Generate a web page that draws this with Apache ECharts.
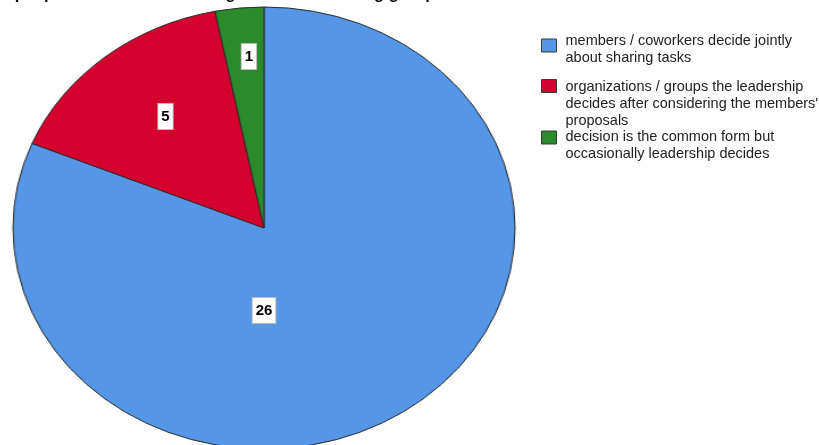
<!DOCTYPE html>
<html>
<head>
<meta charset="utf-8">
<script src="https://cdn.jsdelivr.net/npm/echarts@6/dist/echarts.min.js"></script>
<style>
  html, body { margin: 0; padding: 0; background: #fff; overflow: hidden; }
  #wrap { position: relative; width: 819px; height: 445px; overflow: hidden; }
  #pie, #overlay { position: absolute; left: 0; top: 0; width: 819px; height: 445px; }
  /* the pie is drawn as a circle and stretched sideways into an ellipse */
  #pie { transform: scaleX(1.136); transform-origin: 264px 228px; }
</style>
</head>
<body>
<div id="wrap">
  <div id="pie"></div>
  <div id="overlay"></div>
</div>
<script>
// answer categories and their counts
const categories = [
  'members / coworkers decide jointly\nabout sharing tasks',
  'organizations / groups the leadership\ndecides after considering the members\'\nproposals',
  'decision is the common form but\noccasionally leadership decides'
];
const counts = [26, 5, 1];
const colors = ['#5596e6', '#d4002d', '#2a8a2c'];
const titleText = 'n people connected to the organization / working group:';

// geometry of the ellipse
const CX = 264, CY = 228, R = 221, SX = 1.136;
const FONT = 'Liberation Sans, Arial, sans-serif';

// where each value label sits: radial fraction and a small angular nudge (degrees)
const labelRadius = [0.373, 0.639, 0.778];
const labelShift = [33.75, 1.5, 1.2];

const pieData = categories.map((c, i) => ({ name: c, value: counts[i] }));

// 1) stretched pie with sectors only
const pie = echarts.init(document.getElementById('pie'), null, { renderer: 'canvas' });
pie.setOption({
  animation: false,
  series: [{
    type: 'pie',
    silent: true,
    center: [CX, CY],
    radius: R,
    startAngle: 90,
    clockwise: true,
    label: { show: false },
    labelLine: { show: false },
    data: pieData.map((d, i) => ({ ...d, itemStyle: { color: colors[i] } })),
    itemStyle: { borderColor: '#2b2b2b', borderWidth: 1 }
  }]
});

// mid angle of each slice, clockwise from 12 o'clock
const total = counts.reduce((a, b) => a + b, 0);
const midAngles = [];
let acc = 0;
counts.forEach(v => { midAngles.push((acc + v / 2) / total * 360); acc += v; });

// 2) overlay: title, legend and value labels (not stretched)
// a spacer line above the text sets where the first line sits next to the swatch
const LH = 17;
const swatchCenter = [45.5, 86, 137.5];
const firstLineOffset = [-4.5, 1, -0.5];
const legends = categories.map((c, i) => {
  const lines = c.split('\n');
  const n = lines.length;
  const gap = 2 * firstLineOffset[i] + (n - 1) * LH;
  return {
    orient: 'vertical',
    left: 541,
    top: swatchCenter[i] - (gap + n * LH) / 2,
    padding: 0,
    itemWidth: 15,
    itemHeight: 13,
    selectedMode: false,
    icon: 'rect',
    data: [{
      name: c,
      itemStyle: { color: colors[i], borderColor: '#3a3a3a', borderWidth: 1, opacity: 1 }
    }],
    formatter: () => '{g| }\n' + lines.map(l => '{t|' + l + '}').join('\n'),
    textStyle: {
      padding: [0, 0, 0, 4],
      rich: {
        g: { fontSize: 1, lineHeight: gap, height: gap },
        t: { fontFamily: FONT, fontSize: 14.5, lineHeight: LH, color: '#222' }
      }
    }
  };
});

const overlay = echarts.init(document.getElementById('overlay'), null, { renderer: 'canvas' });
overlay.setOption({
  animation: false,
  title: {
    text: titleText,
    left: 0,
    top: -14,
    padding: 0,
    textStyle: { fontFamily: FONT, fontSize: 16.5, fontWeight: 'bold', color: '#111' }
  },
  legend: legends,
  series: [{
    type: 'pie',
    silent: true,
    center: [CX, CY],
    radius: R,
    startAngle: 90,
    clockwise: true,
    itemStyle: { color: 'rgba(0,0,0,0)', borderWidth: 0 },
    labelLine: { show: false },
    label: {
      show: true,
      position: 'inside',
      formatter: '{c}',
      color: '#000',
      fontFamily: FONT,
      fontSize: 15,
      fontWeight: 'bold',
      lineHeight: 17,
      backgroundColor: '#fff',
      borderColor: '#b8b8b8',
      borderWidth: 1,
      padding: [4, 3, 4, 3]
    },
    labelLayout: function (p) {
      const i = p.dataIndex;
      const a = (midAngles[i] + labelShift[i]) * Math.PI / 180;
      const r = labelRadius[i] * R;
      return {
        x: CX + r * Math.sin(a) * SX,
        y: CY - r * Math.cos(a),
        align: 'center',
        verticalAlign: 'middle'
      };
    },
    data: pieData
  }]
});
</script>
</body>
</html>
